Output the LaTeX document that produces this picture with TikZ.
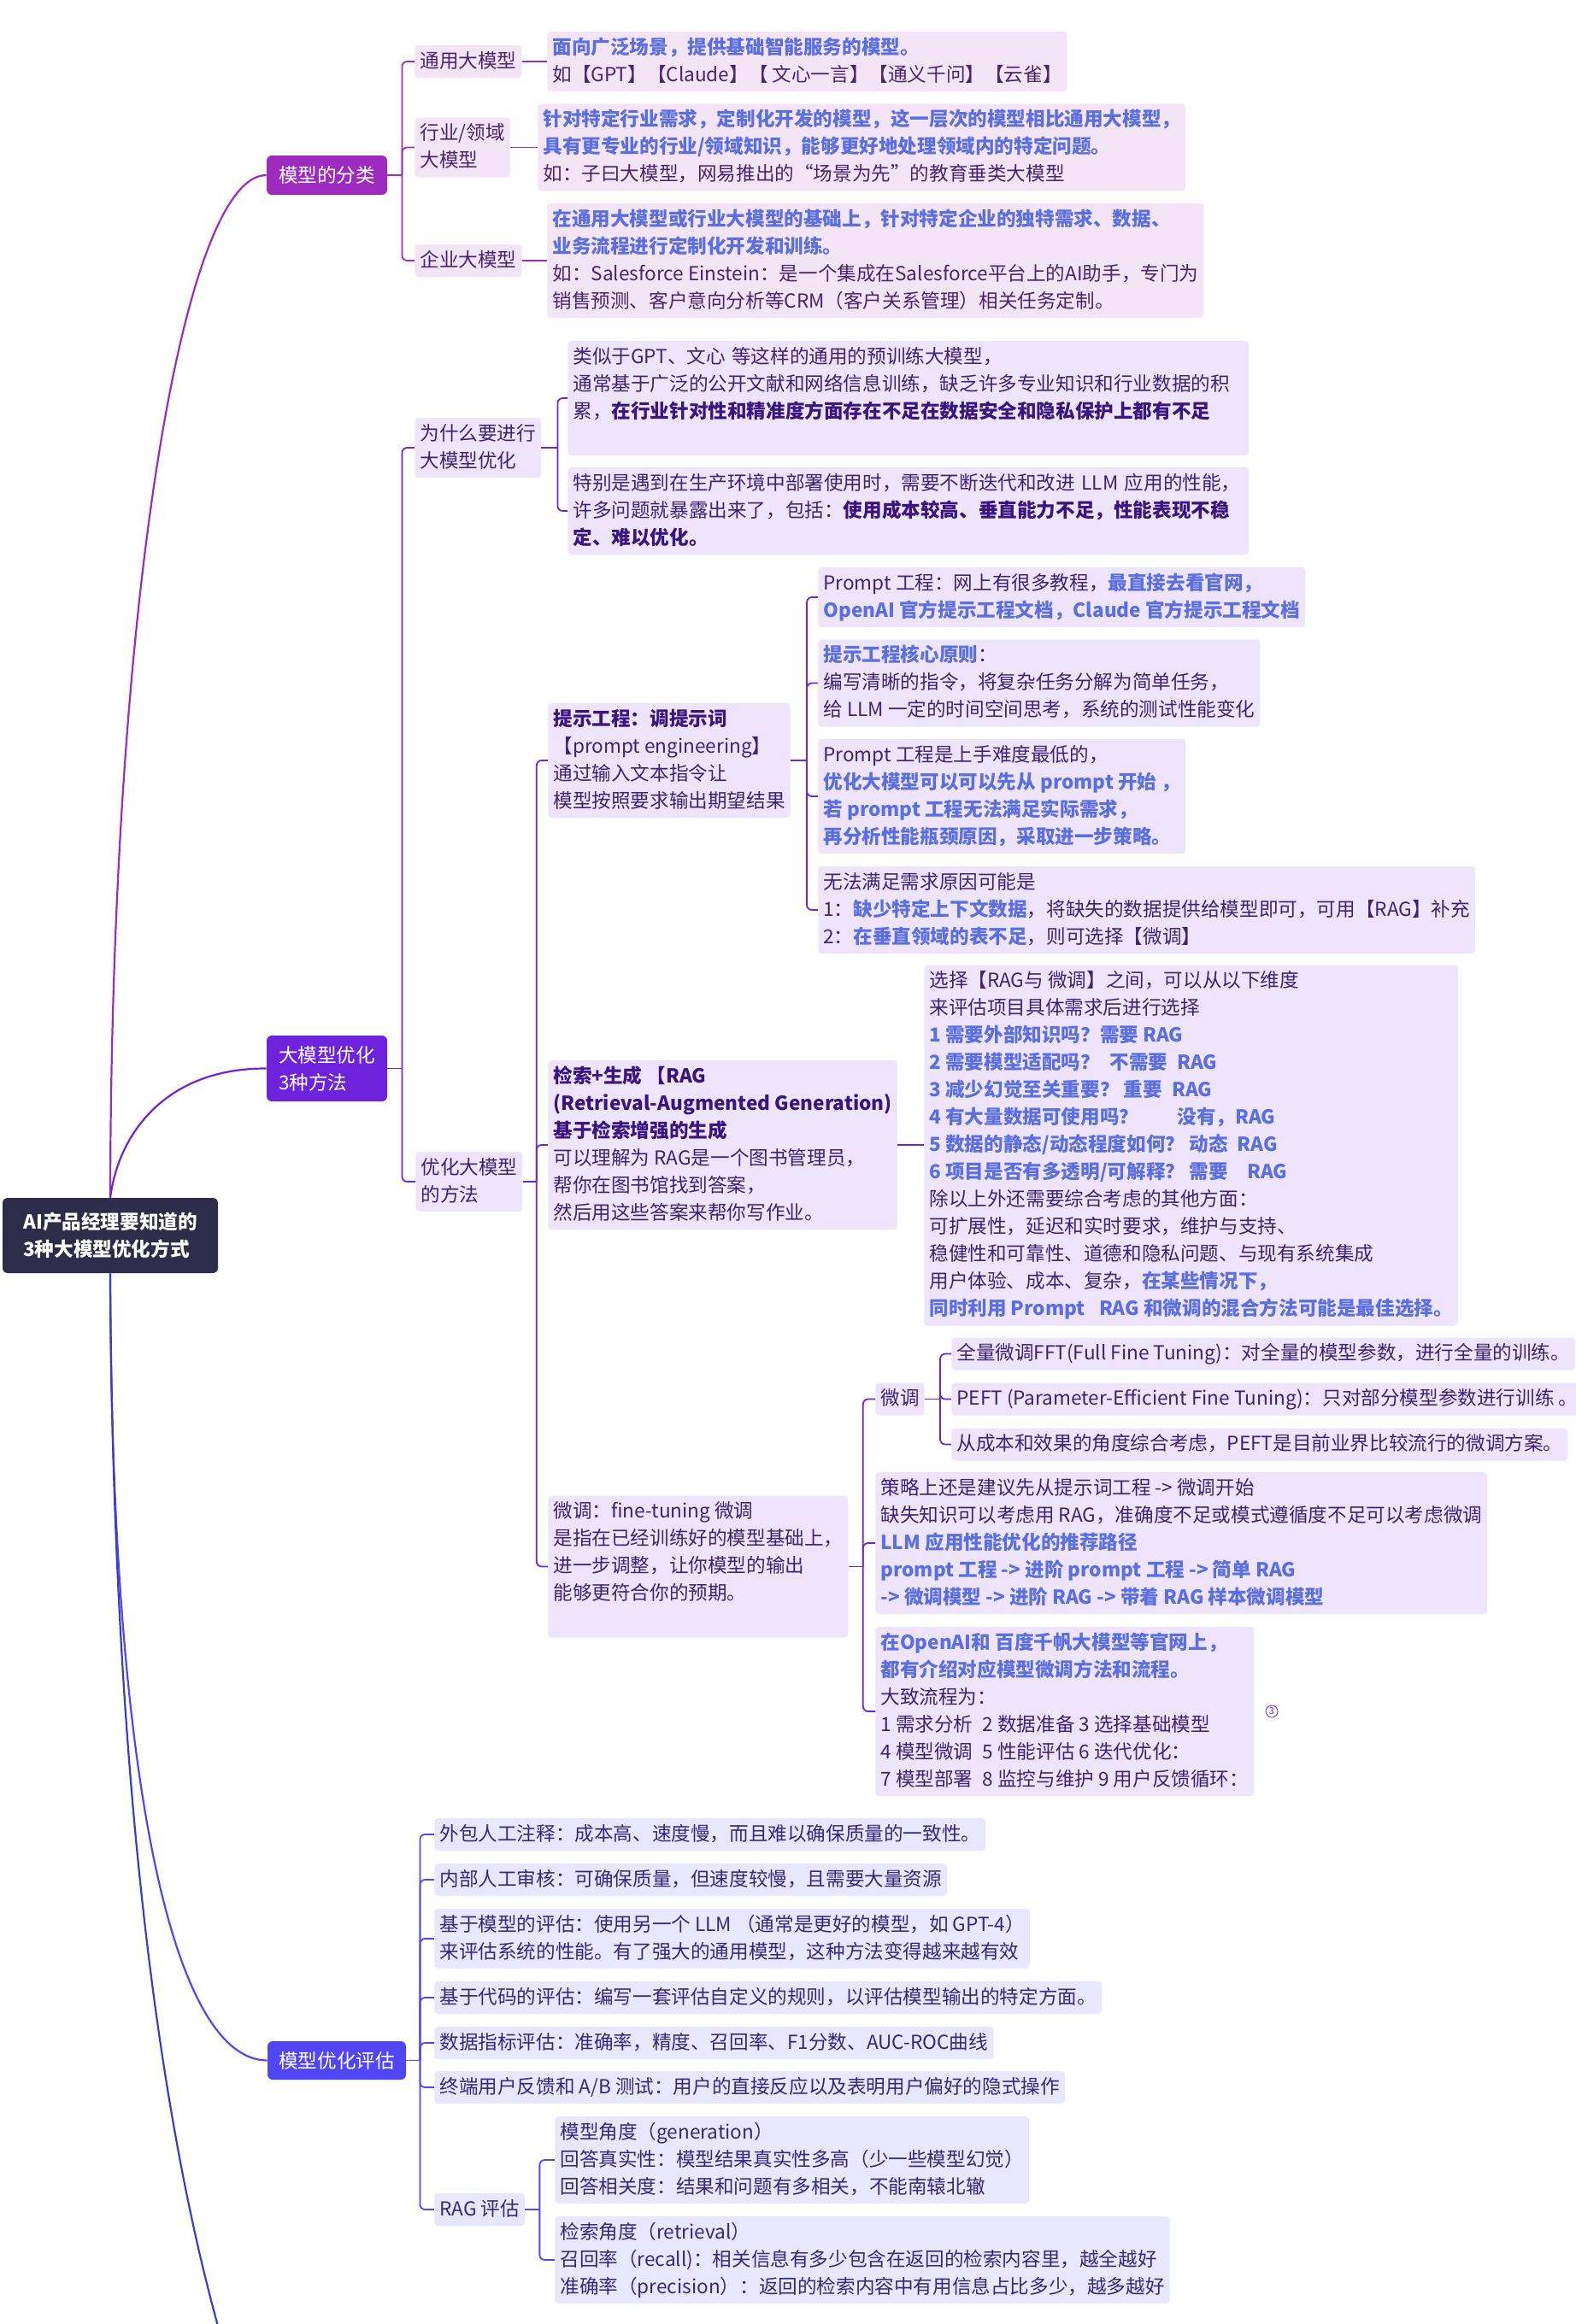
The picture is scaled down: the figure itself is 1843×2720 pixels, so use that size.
\documentclass[tikz,border=0pt]{standalone}
\usepackage{fontspec}
\setmainfont{Noto Sans CJK SC}
\usetikzlibrary{calc}
\definecolor{rootc}{HTML}{2E2C48}
\definecolor{kA}{HTML}{9C2BBE}
\definecolor{kB}{HTML}{6D22DB}
\definecolor{kC}{HTML}{5146F6}
\definecolor{kD}{HTML}{3C3CC6}
\definecolor{fA}{HTML}{F3E4F6}
\definecolor{fB}{HTML}{EEE5FC}
\definecolor{fC}{HTML}{E9E7FD}
\definecolor{txA}{HTML}{4A2470}
\definecolor{txB}{HTML}{3F2272}
\definecolor{txC}{HTML}{37287A}
\definecolor{hlb}{HTML}{5C6FE2}
\definecolor{hld}{HTML}{3A1580}
\newcommand\fsz{\fontsize{11.3pt}{16pt}\selectfont}
\newcommand\mystrut{\rule[-4.3pt]{0pt}{16pt}}
\newcommand\nl{\mystrut\\\mystrut}
\newcommand\HLb[1]{{\bfseries\color{hlb}#1}}
\newcommand\HLd[1]{{\bfseries\color{hld}#1}}
\tikzset{
 boxbase/.style={anchor=west, align=left, font=\fsz, inner xsep=3pt, inner ysep=1.5pt,
   rounded corners=2pt, execute at begin node=\mystrut, execute at end node=\mystrut},
 leafA/.style={boxbase, fill=fA, text=txA},
 leafB/.style={boxbase, fill=fB, text=txB},
 leafC/.style={boxbase, fill=fC, text=txC},
 mainnode/.style={font=\fsz, text=white, align=left, inner sep=0pt, rounded corners=3pt},
 conA/.style={draw=kA, line width=0.9pt, rounded corners=3pt},
 conB/.style={draw=kB, line width=0.9pt, rounded corners=3pt},
 conC/.style={draw=kC, line width=0.9pt, rounded corners=3pt},
 curv/.style={line width=1.1pt},
}
\begin{document}
\begin{tikzpicture}[x=0.5pt,y=-0.5pt]
\fill[white] (0,0) rectangle (1843,2720);
\useasboundingbox (0,0) rectangle (1843,2720);

% root
\node[mainnode, fill=rootc, minimum width=126pt, minimum height=44pt, font=\fsz\bfseries] (root) at (129,1446) {AI产品经理要知道的\\3种大模型优化方式};

% main branches
\node[mainnode, fill=kA, minimum width=70.5pt, minimum height=23pt] (secA) at (382.5,205) {模型的分类};
\node[mainnode, fill=kB, minimum width=70.5pt, minimum height=38.5pt] (secB) at (382.5,1250.5) {大模型优化\\3种方法};
\node[mainnode, fill=kC, minimum width=81pt, minimum height=22.5pt] (secC) at (394,2411.5) {模型优化评估};
\coordinate (offpage) at (340,2950);

\draw[curv, kA] (root.north) .. controls (130,700) and (215,205) .. (secA.west);
\draw[curv, kB] (root.north) .. controls (140,1320) and (200,1250) .. (secB.west);
\draw[curv, kC] (root.south) .. controls (130,2100) and (205,2411) .. (secC.west);
\draw[curv, kD] (root.south) .. controls (133,2300) and (235,2750) .. (offpage);

% ---------- section A ----------
\node[leafA] (a1) at (485,72) {通用大模型};
\node[leafA] (a2) at (485,172.5) {行业/领域\nl 大模型};
\node[leafA] (a3) at (485,305) {企业大模型};
\node[leafA] (a1d) at (640,72) {\HLb{面向广泛场景，提供基础智能服务的模型。}\nl 如【GPT】【Claude】【 文心一言】【通义千问】【云雀】};
\node[leafA] (a2d) at (629,172.5) {\HLb{针对特定行业需求，定制化开发的模型，这一层次的模型相比通用大模型，}\nl \HLb{具有更专业的行业/领域知识，能够更好地处理领域内的特定问题。}\nl 如：子曰大模型，网易推出的“场景为先”的教育垂类大模型};
\node[leafA] (a3d) at (640,305) {\HLb{在通用大模型或行业大模型的基础上，针对特定企业的独特需求、数据、}\nl \HLb{业务流程进行定制化开发和训练。}\nl 如：Salesforce Einstein：是一个集成在Salesforce平台上的AI助手，专门为\nl 销售预测、客户意向分析等CRM（客户关系管理）相关任务定制。};

\draw[conA] (secA.east) -- ++(17,0);
\foreach \c in {a1,a2,a3} \draw[conA] (secA.east) ++(17,0) |- (\c.west);
\draw[conA] (a1.east) -- (a1.east -| a1d.west);
\draw[conA] (a2.east) -- (a2.east -| a2d.west);
\draw[conA] (a3.east) -- (a3.east -| a3d.west);

% ---------- section B ----------
\node[leafB] (b1) at (485,524) {为什么要进行\nl 大模型优化};
\node[leafB] (b2) at (486,1383) {优化大模型\nl 的方法};
\node[leafB, text width=392.5pt] (w1) at (664,466) {类似于GPT、文心 等这样的通用的预训练大模型，\nl 通常基于广泛的公开文献和网络信息训练，缺乏许多专业知识和行业数据的积\nl 累，\HLd{在行业针对性和精准度方面存在不足在数据安全和隐私保护上都有不足}\nl\mbox{}};
\node[leafB, text width=392.5pt] (w2) at (664,598) {特别是遇到在生产环境中部署使用时，需要不断迭代和改进 LLM 应用的性能，\nl 许多问题就暴露出来了，包括：\HLd{使用成本较高、垂直能力不足，性能表现不稳}\nl \HLd{定、难以优化。}};

\node[leafB] (pe) at (641,890) {\HLd{提示工程：调提示词}\nl 【prompt engineering】\nl 通过输入文本指令让\nl 模型按照要求输出期望结果};
\node[leafB] (rag) at (641,1340) {\HLd{检索+生成 【RAG}\nl \HLd{(Retrieval-Augmented Generation)}\nl \HLd{基于检索增强的生成}\nl 可以理解为 RAG是一个图书管理员，\nl 帮你在图书馆找到答案，\nl 然后用这些答案来帮你写作业。};
\node[leafB] (ft) at (641,1833.5) {微调：fine-tuning 微调\nl 是指在已经训练好的模型基础上，\nl 进一步调整，让你模型的输出\nl 能够更符合你的预期。\nl\mbox{}};

\node[leafB] (p1) at (957,699) {Prompt 工程：网上有很多教程，\HLb{最直接去看官网，}\nl \HLb{OpenAI 官方提示工程文档，Claude 官方提示工程文档}};
\node[leafB] (p2) at (957,799.5) {\HLb{提示工程核心原则}：\nl 编写清晰的指令，将复杂任务分解为简单任务，\nl 给 LLM 一定的时间空间思考，系统的测试性能变化};
\node[leafB] (p3) at (957,932) {Prompt 工程是上手难度最低的，\nl \HLb{优化大模型可以可以先从 prompt 开始 ，}\nl \HLb{若 prompt 工程无法满足实际需求，}\nl \HLb{再分析性能瓶颈原因，采取进一步策略。}};
\node[leafB] (p4) at (957,1065) {无法满足需求原因可能是\nl 1：\HLb{缺少特定上下文数据}，将缺失的数据提供给模型即可，可用【RAG】补充\nl 2：\HLb{在垂直领域的表不足}，则可选择【微调】};

\node[leafB] (rag2) at (1081,1340.5) {选择【RAG与 微调】之间，可以从以下维度\nl 来评估项目具体需求后进行选择\nl
\HLb{1 需要外部知识吗？需要 RAG}\nl
\HLb{2 需要模型适配吗？\enspace 不需要\enspace RAG}\nl
\HLb{3 减少幻觉至关重要？ 重要\enspace RAG}\nl
\HLb{4 有大量数据可使用吗？\hspace{2em}没有，RAG}\nl
\HLb{5 数据的静态/动态程度如何？ 动态\enspace RAG}\nl
\HLb{6 项目是否有多透明/可解释？ 需要\enspace\enspace RAG}\nl
除以上外还需要综合考虑的其他方面：\nl
可扩展性，延迟和实时要求，维护与支持、\nl
稳健性和可靠性、道德和隐私问题、与现有系统集成\nl
用户体验、成本、复杂，\HLb{在某些情况下，}\nl
\HLb{同时利用 Prompt\enspace\ RAG 和微调的混合方法可能是最佳选择。}};

\node[leafB] (fts) at (1024,1637.5) {微调};
\node[leafB] (f1) at (1024,1806) {策略上还是建议先从提示词工程 -> 微调开始\nl 缺失知识可以考虑用 RAG，准确度不足或模式遵循度不足可以考虑微调\nl \HLb{LLM 应用性能优化的推荐路径}\nl \HLb{prompt 工程 -> 进阶 prompt 工程 -> 简单 RAG}\nl \HLb{-> 微调模型 -> 进阶 RAG -> 带着 RAG 样本微调模型}};
\node[leafB] (g1) at (1024,2003) {\HLb{在OpenAI和 百度千帆大模型等官网上，}\nl \HLb{都有介绍对应模型微调方法和流程。}\nl 大致流程为：\nl 1 需求分析\enspace 2 数据准备 3 选择基础模型\nl 4 模型微调\enspace 5 性能评估 6 迭代优化：\nl 7 模型部署\enspace 8 监控与维护 9 用户反馈循环：};
\node[circle, draw=kB, line width=0.4pt, inner sep=0pt, minimum size=7pt, font=\fontsize{5.5pt}{6pt}\selectfont, text=kB] (badge) at (1488,2003) {3};

\node[leafB] (h1) at (1113,1584.5) {全量微调FFT(Full Fine Tuning)：对全量的模型参数，进行全量的训练。};
\node[leafB] (h2) at (1113,1637.5) {PEFT (Parameter-Efficient Fine Tuning)：只对部分模型参数进行训练 。};
\node[leafB] (h3) at (1113,1690.5) {从成本和效果的角度综合考虑，PEFT是目前业界比较流行的微调方案。};

\draw[conB] (secB.east) -- ++(17,0);
\foreach \c in {b1,b2} \draw[conB] (secB.east) ++(17,0) |- (\c.west);
\draw[conB] (b1.east) -- ++(19,0);
\foreach \c in {w1,w2} \draw[conB] (b1.east) ++(19,0) |- (\c.west);
\draw[conB] (b2.east) -- ++(16,0);
\foreach \c in {pe,rag,ft} \draw[conB] (b2.east) ++(16,0) |- (\c.west);
\draw[conB] (pe.east) -- ++(19,0);
\foreach \c in {p1,p2,p3,p4} \draw[conB] (pe.east) ++(19,0) |- (\c.west);
\draw[conB] (rag.east) -- (rag.east -| rag2.west);
\draw[conB] (ft.east) -- ++(17,0);
\foreach \c in {fts,f1,g1} \draw[conB] (ft.east) ++(17,0) |- (\c.west);
\draw[conB] (fts.east) -- ++(18,0);
\foreach \c in {h1,h2,h3} \draw[conB] (fts.east) ++(18,0) |- (\c.west);

% ---------- section C ----------
\node[leafC] (e1) at (508,2147) {外包人工注释：成本高、速度慢，而且难以确保质量的一致性。};
\node[leafC] (e2) at (508,2200) {内部人工审核：可确保质量，但速度较慢，且需要大量资源};
\node[leafC] (e3) at (508,2269) {基于模型的评估：使用另一个 LLM （通常是更好的模型，如 GPT-4）\nl 来评估系统的性能。有了强大的通用模型，这种方法变得越来越有效};
\node[leafC] (e4) at (508,2338) {基于代码的评估：编写一套评估自定义的规则，以评估模型输出的特定方面。};
\node[leafC] (e5) at (508,2391) {数据指标评估：准确率，精度、召回率、F1分数、AUC-ROC曲线};
\node[leafC] (e6) at (508,2443) {终端用户反馈和 A/B 测试：用户的直接反应以及表明用户偏好的隐式操作};
\node[leafC] (re) at (508,2586) {RAG 评估};
\node[leafC] (r1) at (649,2528) {模型角度（generation）\nl 回答真实性：模型结果真实性多高（少一些模型幻觉）\nl 回答相关度：结果和问题有多相关，不能南辕北辙};
\node[leafC] (r2) at (649,2645) {检索角度（retrieval）\nl 召回率（recall)：相关信息有多少包含在返回的检索内容里，越全越好\nl 准确率（precision）：返回的检索内容中有用信息占比多少，越多越好};

\draw[conC] (secC.east) -- ++(16,0);
\foreach \c in {e1,e2,e3,e4,e5,e6,re} \draw[conC] (secC.east) ++(16,0) |- (\c.west);
\draw[conC] (re.east) -- ++(17,0);
\foreach \c in {r1,r2} \draw[conC] (re.east) ++(17,0) |- (\c.west);
\end{tikzpicture}
\end{document}
